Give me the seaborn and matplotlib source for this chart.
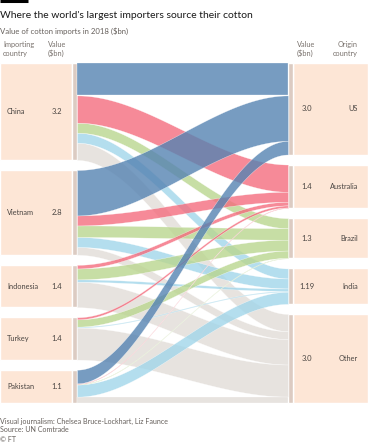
import numpy as np
import pandas as pd
import matplotlib
matplotlib.use("Agg")
import matplotlib.pyplot as plt
import seaborn as sns

# ----- Dados ($bn) -----
importers = ["China", "Vietnam", "Indonesia", "Turkey", "Pakistan"]
importer_labels = ["3.2", "2.8", "1.4", "1.4", "1.1"]
origins = ["US", "Australia", "Brazil", "India", "Other"]
origin_labels = ["3.0", "1.4", "1.3", "1.19", "3.0"]

# fluxo importador -> origem, na ordem de importers
from_us = [1.07, 1.50, 0.00, 0.00, 0.45]
from_australia = [0.90, 0.33, 0.12, 0.07, 0.02]
from_brazil = [0.33, 0.38, 0.36, 0.24, 0.02]
from_india = [0.33, 0.33, 0.08, 0.03, 0.40]
from_other = [0.57, 0.26, 0.84, 1.06, 0.21]

flows = pd.DataFrame(
    {"US": from_us, "Australia": from_australia, "Brazil": from_brazil,
     "India": from_india, "Other": from_other},
    index=importers,
)

# ----- Estilo -----
sns.set_theme(style="white")
plt.rcParams["font.family"] = ["Lato", "DejaVu Sans"]

flow_colors = dict(zip(origins, sns.color_palette(
    ["#5583b2", "#f46d7e", "#bad68f", "#a1d6ea", "#e2ddd8"])))
PEACH = "#fde6d6"
STRIP = "#dccbc2"
TEXT = "#4a4542"
GREY = "#7a736e"

# layout em pixels (eixo = figura inteira)
TOP, BOTTOM, GAP = 63, 403, 10
X_FLOW0, X_FLOW1 = 77, 288
STRIP_W = 5

fig = plt.figure(figsize=(3.68, 4.45), dpi=100)
ax = fig.add_axes([0, 0, 1, 1])
ax.set_xlim(0, 368)
ax.set_ylim(445, 0)
ax.axis("off")

left_tot = flows.sum(axis=1)
right_tot = flows.sum(axis=0)
scale = (BOTTOM - TOP - GAP * (len(importers) - 1)) / left_tot.sum()

left_top = TOP + np.concatenate([[0], np.cumsum(left_tot.values * scale + GAP)[:-1]])
right_top = TOP + np.concatenate([[0], np.cumsum(right_tot.values * scale + GAP)[:-1]])
left_h = left_tot.values * scale
right_h = right_tot.values * scale

# blocos dos nos
ax.barh(left_top + left_h / 2, X_FLOW0 - STRIP_W, height=left_h, left=0, color=PEACH)
ax.barh(left_top + left_h / 2, STRIP_W, height=left_h, left=X_FLOW0 - STRIP_W, color=STRIP)
ax.barh(right_top + right_h / 2, 368 - X_FLOW1 - STRIP_W, height=right_h,
        left=X_FLOW1 + STRIP_W, color=PEACH)
ax.barh(right_top + right_h / 2, STRIP_W, height=right_h, left=X_FLOW1, color=STRIP)

# posicoes de cada faixa nos dois lados
left_off = {}
for i, imp in enumerate(importers):
    y = left_top[i]
    for org in origins:
        left_off[(imp, org)] = y
        y += flows.loc[imp, org] * scale
right_off = {}
for j, org in enumerate(origins):
    y = right_top[j]
    for imp in importers:
        right_off[(imp, org)] = y
        y += flows.loc[imp, org] * scale

# faixas (curva suave)
t = np.linspace(0, 1, 120)
xs = X_FLOW0 + t * (X_FLOW1 - X_FLOW0)
s = 3 * t ** 2 - 2 * t ** 3
for org in reversed(origins):
    for imp in importers:
        h = flows.loc[imp, org] * scale
        if h <= 0:
            continue
        y0, y1 = left_off[(imp, org)], right_off[(imp, org)]
        ytop = y0 + (y1 - y0) * s
        ax.fill_between(xs, ytop, ytop + h, color=flow_colors[org], alpha=0.8,
                        linewidth=0.25, edgecolor="white")

# rotulos dos nos
for i, imp in enumerate(importers):
    yc = left_top[i] + left_h[i] / 2
    ax.text(7, yc, imp, fontsize=5.3, color=TEXT, va="center", ha="left")
    ax.text(56.5, yc, importer_labels[i], fontsize=5.5, color=TEXT, va="center", ha="center")
for j, org in enumerate(origins):
    yc = right_top[j] + right_h[j] / 2
    ax.text(307, yc, origin_labels[j], fontsize=5.5, color=TEXT, va="center", ha="center")
    ax.text(358, yc, org, fontsize=5.3, color=TEXT, va="center", ha="right")

# cabecalhos das colunas
hdr = dict(fontsize=5.3, color=GREY, va="center", linespacing=1.3)
ax.text(3, 49, "Importing\ncountry", ha="left", **hdr)
ax.text(48, 49, "Value\n($bn)", ha="left", **hdr)
ax.text(297, 49, "Value\n($bn)", ha="left", **hdr)
ax.text(358, 49, "Origin\ncountry", ha="right", **hdr)

# titulo
ax.plot([0, 28], [1, 1], color="black", linewidth=2.2, solid_capstyle="butt")
ax.text(0, 15, "Where the world's largest importers source their cotton",
        fontsize=7.5, color="#1a1a1a", va="center", ha="left")
ax.text(0, 31, "Value of cotton imports in 2018 ($bn)",
        fontsize=5.6, color="#66605c", va="center", ha="left")

# rodape
foot = dict(fontsize=5.1, color="#66605c", va="center", ha="left")
ax.text(0, 421, "Visual journalism: Chelsea Bruce-Lockhart, Liz Faunce", **foot)
ax.text(0, 430, "Source: UN Comtrade", **foot)
ax.text(0, 439, "\u00a9 FT", **foot)

fig.savefig("out.png", dpi=100, facecolor="white")
